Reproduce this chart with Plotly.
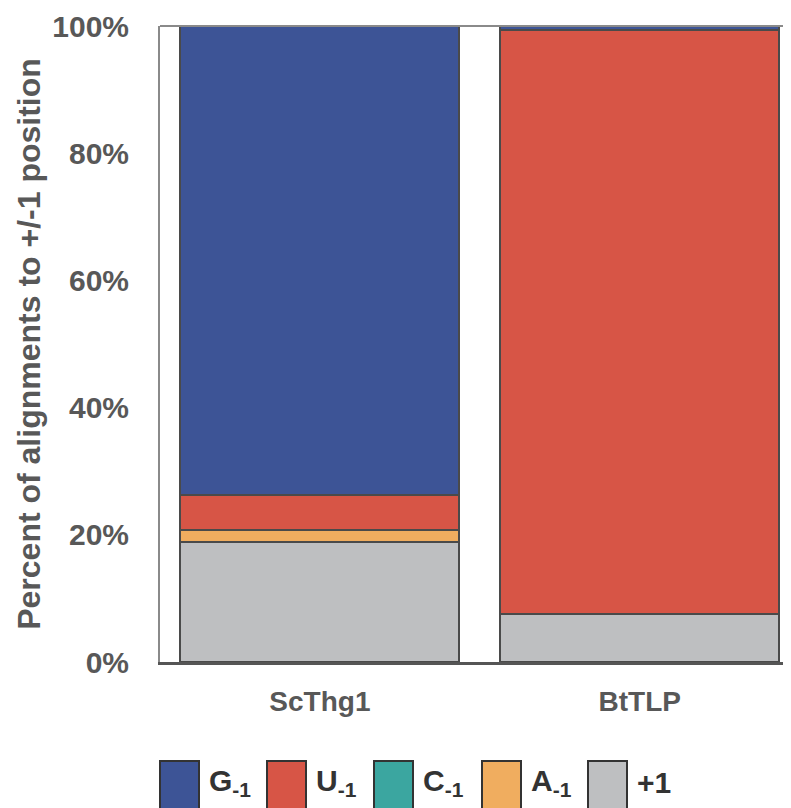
import plotly.graph_objects as go

categories = ["ScThg1", "BtTLP"]
series_names = ["+1", "A<sub>-1</sub>", "C<sub>-1</sub>", "U<sub>-1</sub>", "G<sub>-1</sub>"]
plus1 = [18.8, 7.5]
a_1 = [1.95, 0.0]
c_1 = [0.0, 0.0]
u_1 = [5.55, 91.8]
g_1 = [73.7, 0.7]
values = [plus1, a_1, c_1, u_1, g_1]
colors = ["#BEBFC1", "#F0AD5F", "#3BA6A0", "#D75546", "#3D5496"]
legend_order = ["G<sub>-1</sub>", "U<sub>-1</sub>", "C<sub>-1</sub>", "A<sub>-1</sub>", "+1"]
legend_colors = ["#3D5496", "#D75546", "#3BA6A0", "#F0AD5F", "#BEBFC1"]
yticks = [0, 20, 40, 60, 80, 100]
yticklabels = ["0%", "20%", "40%", "60%", "80%", "100%"]

OFF = 8  # page body margin
W, H = 791 - OFF, 808 - OFF
L, R, T, B = 160 - OFF, 0, 26 - OFF, 146
pw, ph = W - L - R, H - T - B

FONT = "Liberation Sans, Arial"
fig = go.Figure()
for name, vals, col in zip(series_names, values, colors):
    fig.add_trace(go.Bar(
        x=categories, y=vals, name=name,
        marker=dict(color=col, line=dict(color="#4a4a4a", width=2)),
        showlegend=False,
    ))

def px_x(p):
    return (p - OFF - L) / pw

def px_y(p):
    return (H - B - (p - OFF)) / ph

shapes = []
annotations = []
shapes.append(dict(type="line", xref="paper", yref="paper", x0=0, x1=1, y0=1, y1=1,
                   line=dict(color="#8a8a8a", width=2)))
box_x = [160, 267, 374, 482, 588]
for bx, name, col in zip(box_x, legend_order, legend_colors):
    shapes.append(dict(type="rect", xref="paper", yref="paper",
                       x0=px_x(bx), x1=px_x(bx + 39), y0=px_y(761), y1=px_y(815),
                       fillcolor=col, line=dict(color="#333333", width=2)))
    annotations.append(dict(xref="paper", yref="paper", x=px_x(bx + 47), y=px_y(783),
                            text="<b>" + name + "</b>", showarrow=False, xanchor="left",
                            yanchor="middle",
                            font=dict(family=FONT, size=30, color="#333333")))

fig.update_layout(
    barmode="stack",
    bargap=0.128,
    width=W, height=H,
    margin=dict(l=L, r=R, t=T, b=B),
    paper_bgcolor="white", plot_bgcolor="white",
    shapes=shapes, annotations=annotations,
    font=dict(family=FONT, color="#585858"),
)
fig.update_xaxes(
    range=[-0.5, 1.473], showgrid=False,
    showline=True, linecolor="#555555", linewidth=3,
    ticks="", tickfont=dict(size=28, color="#585858", family=FONT),
    ticklabelstandoff=12,
    tickvals=[0, 1], ticktext=["<b>" + c + "</b>" for c in categories],
)
fig.update_yaxes(
    range=[0, 100], showgrid=False, zeroline=False,
    showline=True, linecolor="#8a8a8a", linewidth=2,
    tickvals=yticks, ticktext=["<b>" + t + "</b>" for t in yticklabels],
    ticks="", ticklabelstandoff=23,
    tickfont=dict(size=30, color="#585858", family=FONT),
    title=dict(text="<b>Percent of alignments to +/-1 position</b>", standoff=2,
               font=dict(size=32, color="#585858", family=FONT)),
)
fig.write_html("out.html")
